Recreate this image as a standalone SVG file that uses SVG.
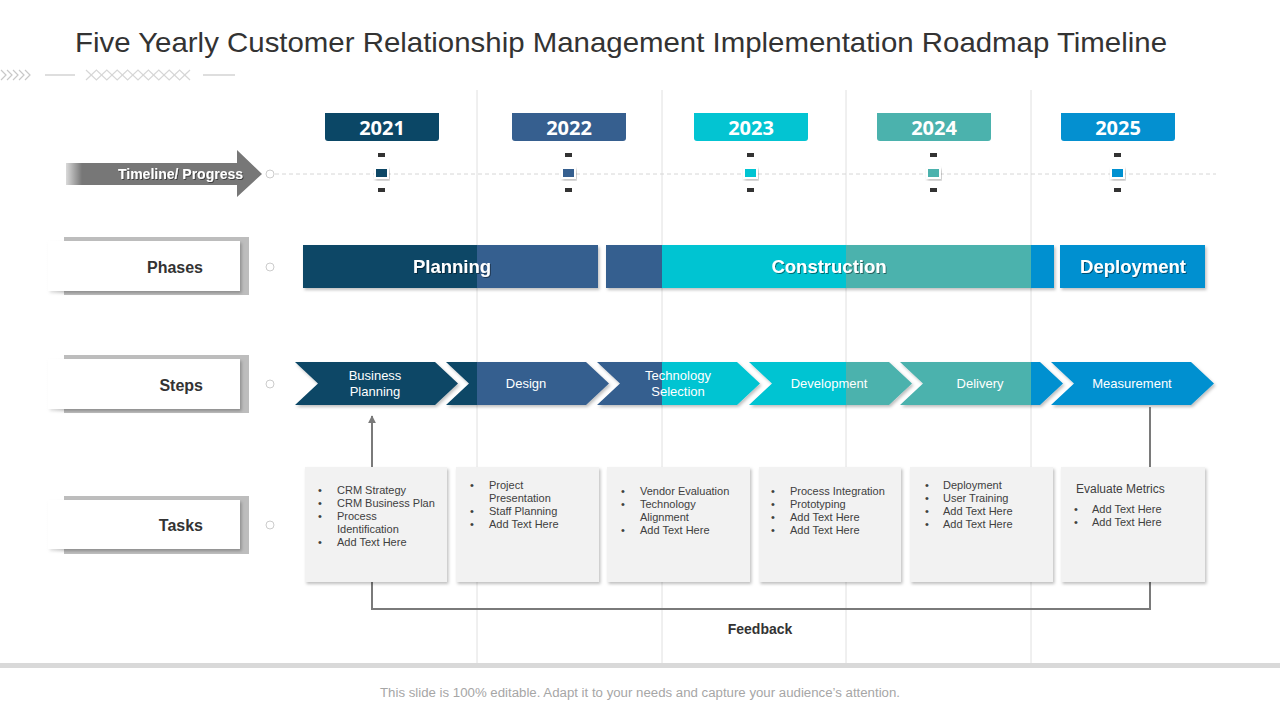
<svg xmlns="http://www.w3.org/2000/svg" width="1280" height="720" viewBox="0 0 1280 720">
<defs>
<style>
.title{font-family:"Liberation Sans",Arial,sans-serif;font-size:28px;fill:#333}
.year{font-family:"Open Sans","Liberation Sans",sans-serif;font-weight:700;font-size:20px;fill:#fff;text-anchor:middle}
.lbl{font-family:"Liberation Sans",Arial,sans-serif;font-weight:700;font-size:16px;fill:#333;text-anchor:end}
.phase{font-family:"Liberation Sans",Arial,sans-serif;font-weight:700;font-size:18.5px;fill:#fff;text-anchor:middle}
.step{font-family:"Liberation Sans",Arial,sans-serif;font-size:13px;fill:#fff;text-anchor:middle}
.task{font-family:"Liberation Sans",Arial,sans-serif;font-size:11px;fill:#404040}
.grid{stroke:#e0e0e0;stroke-width:1}
.conn{stroke:#7a7a7a;stroke-width:2;fill:none}
.box{fill:#f2f2f2}
.c1{fill:#0b4766}.c2{fill:#365f8f}.c3{fill:#03c4d2}.c4{fill:#4bb2ad}.c5{fill:#0490d0}
.tick{fill:#333}
.dot{fill:none;stroke:#ccc;stroke-width:1}
</style>
<filter id="sh" x="-10%" y="-20%" width="120%" height="150%">
<feDropShadow dx="1.5" dy="2" stdDeviation="1.5" flood-color="#000" flood-opacity="0.25"/>
</filter>
<filter id="tsh" x="-10%" y="-20%" width="120%" height="150%">
<feDropShadow dx="1" dy="1" stdDeviation="0.6" flood-color="#000" flood-opacity="0.45"/>
</filter>
<linearGradient id="fadeL" x1="0" x2="1" y1="0" y2="0">
<stop offset="0" stop-color="#fff" stop-opacity="1"/>
<stop offset="1" stop-color="#fff" stop-opacity="0"/>
</linearGradient>
<clipPath id="phaseClip">
<rect x="303" y="245" width="295" height="43"/>
<rect x="606" y="245" width="448" height="43"/>
<rect x="1060" y="245" width="145" height="43"/>
</clipPath>
<clipPath id="stepClip">
<polygon points="295,362 435,362 458,383.5 435,405 295,405 318,383.5"/>
<polygon points="446,362 586,362 609,383.5 586,405 446,405 469,383.5"/>
<polygon points="597,362 737,362 760,383.5 737,405 597,405 620,383.5"/>
<polygon points="749,362 889,362 912,383.5 889,405 749,405 772,383.5"/>
<polygon points="900,362 1040,362 1063,383.5 1040,405 900,405 923,383.5"/>
<polygon points="1051,362 1191,362 1214,383.5 1191,405 1051,405 1074,383.5"/>
</clipPath>
<marker id="arr" viewBox="0 0 10 10" refX="9" refY="5" markerWidth="4" markerHeight="4" orient="auto">
<path d="M0,0 L10,5 L0,10 z" fill="#7a7a7a"/>
</marker>
</defs>

<rect width="1280" height="720" fill="#fff"/>

<text class="title" x="75" y="52" textLength="1092" lengthAdjust="spacingAndGlyphs">Five Yearly Customer Relationship Management Implementation Roadmap Timeline</text>

<g id="decor" fill="none" stroke="#c8c8c8" stroke-width="1.2">
<path d="M1,70 l5,5 l-5,5 M7,70 l5,5 l-5,5 M13,70 l5,5 l-5,5 M19,70 l5,5 l-5,5 M25,70 l5,5 l-5,5"/>
<line x1="45" y1="75" x2="75" y2="75"/>
<line x1="203" y1="75" x2="235" y2="75"/>
<polyline stroke="#d6d6d6" points="86,70 96.4,80 106.8,70 117.2,80 127.6,70 138,80 148.4,70 158.8,80 169.2,70 179.6,80 190,70"/>
<polyline stroke="#d6d6d6" points="86,80 96.4,70 106.8,80 117.2,70 127.6,80 138,70 148.4,80 158.8,70 169.2,80 179.6,70 190,80"/>
</g>

<g id="grid">
<line class="grid" x1="477" y1="90" x2="477" y2="665"/>
<line class="grid" x1="662" y1="90" x2="662" y2="665"/>
<line class="grid" x1="846" y1="90" x2="846" y2="665"/>
<line class="grid" x1="1031" y1="90" x2="1031" y2="665"/>
</g>

<g id="timeline-label">
<polygon points="66,163 237,163 237,150 262,174 237,197 237,185 66,185" fill="#777"/>
<rect x="60" y="150" width="22" height="48" fill="url(#fadeL)"/>
<text x="243" y="179" font-family="Liberation Sans,Arial,sans-serif" font-weight="700" font-size="14" fill="#fff" text-anchor="end" filter="url(#tsh)">Timeline/ Progress</text>
<circle class="dot" cx="270" cy="174" r="4"/>
</g>

<line x1="275" y1="174" x2="1216" y2="174" stroke="#d6d6d6" stroke-width="1" stroke-dasharray="4 3"/>

<g id="y2021">
<path class="c1" d="M325,113 H439 V138 a3,3 0 0 1 -3,3 H328 a3,3 0 0 1 -3,-3 Z"/>
<text class="year" x="382" y="135">2021</text>
<rect class="tick" x="378" y="153" width="7" height="4"/>
<rect class="c1" x="375" y="168" width="13" height="10" stroke="#fff" stroke-width="2" filter="url(#sh)"/>
<rect class="tick" x="378" y="188" width="7" height="4"/>
</g>
<g id="y2022">
<path class="c2" d="M512,113 H626 V138 a3,3 0 0 1 -3,3 H515 a3,3 0 0 1 -3,-3 Z"/>
<text class="year" x="569" y="135">2022</text>
<rect class="tick" x="565" y="153" width="7" height="4"/>
<rect class="c2" x="562" y="168" width="13" height="10" stroke="#fff" stroke-width="2" filter="url(#sh)"/>
<rect class="tick" x="565" y="188" width="7" height="4"/>
</g>
<g id="y2023">
<path class="c3" d="M694,113 H808 V138 a3,3 0 0 1 -3,3 H697 a3,3 0 0 1 -3,-3 Z"/>
<text class="year" x="751" y="135">2023</text>
<rect class="tick" x="747" y="153" width="7" height="4"/>
<rect class="c3" x="744" y="168" width="13" height="10" stroke="#fff" stroke-width="2" filter="url(#sh)"/>
<rect class="tick" x="747" y="188" width="7" height="4"/>
</g>
<g id="y2024">
<path class="c4" d="M877,113 H991 V138 a3,3 0 0 1 -3,3 H880 a3,3 0 0 1 -3,-3 Z"/>
<text class="year" x="934" y="135">2024</text>
<rect class="tick" x="930" y="153" width="7" height="4"/>
<rect class="c4" x="927" y="168" width="13" height="10" stroke="#fff" stroke-width="2" filter="url(#sh)"/>
<rect class="tick" x="930" y="188" width="7" height="4"/>
</g>
<g id="y2025">
<path class="c5" d="M1061,113 H1175 V138 a3,3 0 0 1 -3,3 H1064 a3,3 0 0 1 -3,-3 Z"/>
<text class="year" x="1118" y="135">2025</text>
<rect class="tick" x="1114" y="153" width="7" height="4"/>
<rect class="c5" x="1111" y="168" width="13" height="10" stroke="#fff" stroke-width="2" filter="url(#sh)"/>
<rect class="tick" x="1114" y="188" width="7" height="4"/>
</g>

<g id="phases-label">
<rect x="64" y="237" width="185" height="58" fill="#bdbdbd"/>
<rect x="48" y="241" width="192" height="50" fill="#fff" filter="url(#sh)"/>
<rect x="40" y="236" width="24" height="62" fill="url(#fadeL)"/>
<text class="lbl" x="203" y="273">Phases</text>
<circle class="dot" cx="270" cy="267" r="4"/>
</g>

<g id="phases">
<g filter="url(#sh)">
<g clip-path="url(#phaseClip)">
<rect class="c1" x="290" y="240" width="187" height="55"/>
<rect class="c2" x="477" y="240" width="185" height="55"/>
<rect class="c3" x="662" y="240" width="184" height="55"/>
<rect class="c4" x="846" y="240" width="185" height="55"/>
<rect class="c5" x="1031" y="240" width="180" height="55"/>
</g>
</g>
<text class="phase" x="452" y="273" filter="url(#tsh)">Planning</text>
<text class="phase" x="829" y="273" filter="url(#tsh)">Construction</text>
<text class="phase" x="1133" y="273" filter="url(#tsh)">Deployment</text>
</g>

<g id="steps-label">
<rect x="64" y="355" width="185" height="58" fill="#bdbdbd"/>
<rect x="48" y="359" width="192" height="50" fill="#fff" filter="url(#sh)"/>
<rect x="40" y="354" width="24" height="62" fill="url(#fadeL)"/>
<text class="lbl" x="203" y="391">Steps</text>
<circle class="dot" cx="270" cy="384" r="4"/>
</g>

<g id="steps">
<g filter="url(#sh)">
<g clip-path="url(#stepClip)">
<rect class="c1" x="290" y="358" width="187" height="50"/>
<rect class="c2" x="477" y="358" width="185" height="50"/>
<rect class="c3" x="662" y="358" width="184" height="50"/>
<rect class="c4" x="846" y="358" width="185" height="50"/>
<rect class="c5" x="1031" y="358" width="190" height="50"/>
</g>
</g>
<text class="step" x="375" y="380">Business</text>
<text class="step" x="375" y="396">Planning</text>
<text class="step" x="526" y="388">Design</text>
<text class="step" x="678" y="380">Technology</text>
<text class="step" x="678" y="396">Selection</text>
<text class="step" x="829" y="388">Development</text>
<text class="step" x="980" y="388">Delivery</text>
<text class="step" x="1132" y="388">Measurement</text>
</g>

<g id="tasks-label">
<rect x="64" y="496" width="185" height="58" fill="#bdbdbd"/>
<rect x="48" y="500" width="192" height="49" fill="#fff" filter="url(#sh)"/>
<rect x="40" y="494" width="24" height="62" fill="url(#fadeL)"/>
<text class="lbl" x="203" y="531">Tasks</text>
<circle class="dot" cx="270" cy="525" r="4"/>
</g>

<g id="connectors">
<line class="conn" x1="372" y1="467" x2="372" y2="416" marker-end="url(#arr)"/>
<polyline class="conn" points="372,582 372,609 1150,609 1150,582"/>
<line class="conn" x1="1150" y1="407" x2="1150" y2="467"/>
<text x="760" y="634" font-family="Liberation Sans,Arial,sans-serif" font-weight="700" font-size="14" fill="#333" text-anchor="middle">Feedback</text>
</g>

<g id="task1">
<rect class="box" x="305" y="467" width="142" height="115" filter="url(#sh)"/>
<g class="task">
<text x="318" y="494">•</text><text x="337" y="494">CRM  Strategy</text>
<text x="318" y="507">•</text><text x="337" y="507">CRM  Business Plan</text>
<text x="318" y="520">•</text><text x="337" y="520">Process</text>
<text x="337" y="533">Identification</text>
<text x="318" y="546">•</text><text x="337" y="546">Add Text Here</text>
</g>
</g>
<g id="task2">
<rect class="box" x="456" y="467" width="143" height="115" filter="url(#sh)"/>
<g class="task">
<text x="470" y="489">•</text><text x="489" y="489">Project</text>
<text x="489" y="502">Presentation</text>
<text x="470" y="515">•</text><text x="489" y="515">Staff Planning</text>
<text x="470" y="528">•</text><text x="489" y="528">Add Text Here</text>
</g>
</g>
<g id="task3">
<rect class="box" x="607" y="467" width="143" height="115" filter="url(#sh)"/>
<g class="task">
<text x="621" y="495">•</text><text x="640" y="495">Vendor Evaluation</text>
<text x="621" y="508">•</text><text x="640" y="508">Technology</text>
<text x="640" y="521">Alignment</text>
<text x="621" y="534">•</text><text x="640" y="534">Add Text Here</text>
</g>
</g>
<g id="task4">
<rect class="box" x="759" y="467" width="142" height="115" filter="url(#sh)"/>
<g class="task">
<text x="771" y="495">•</text><text x="790" y="495">Process Integration</text>
<text x="771" y="508">•</text><text x="790" y="508">Prototyping</text>
<text x="771" y="521">•</text><text x="790" y="521">Add Text Here</text>
<text x="771" y="534">•</text><text x="790" y="534">Add Text Here</text>
</g>
</g>
<g id="task5">
<rect class="box" x="910" y="467" width="143" height="115" filter="url(#sh)"/>
<g class="task">
<text x="925" y="489">•</text><text x="943" y="489">Deployment</text>
<text x="925" y="502">•</text><text x="943" y="502">User Training</text>
<text x="925" y="515">•</text><text x="943" y="515">Add Text Here</text>
<text x="925" y="528">•</text><text x="943" y="528">Add Text Here</text>
</g>
</g>
<g id="task6">
<rect class="box" x="1061" y="467" width="144" height="115" filter="url(#sh)"/>
<g class="task">
<text x="1076" y="493" font-size="12">Evaluate Metrics</text>
<text x="1074" y="513">•</text><text x="1092" y="513">Add Text Here</text>
<text x="1074" y="526">•</text><text x="1092" y="526">Add Text Here</text>
</g>
</g>

<rect x="0" y="663" width="1280" height="5" fill="#d9d9d9"/>
<text x="380" y="697" font-family="Liberation Sans,Arial,sans-serif" font-size="12.5" fill="#a6a6a6" textLength="520" lengthAdjust="spacingAndGlyphs">This slide is 100% editable. Adapt it to your needs and capture your audience’s attention.</text>
</svg>
